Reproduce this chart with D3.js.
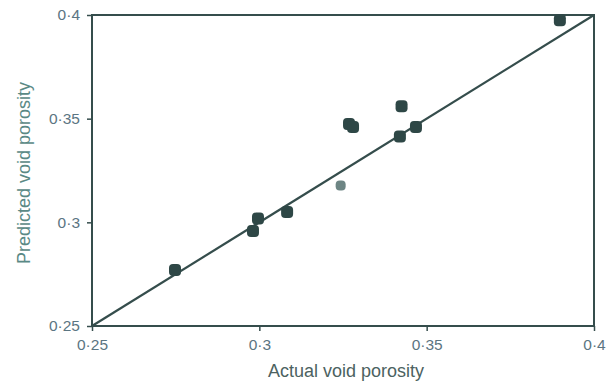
<!DOCTYPE html>
<html>
<head>
<meta charset="utf-8">
<script src="https://cdn.jsdelivr.net/npm/d3@7"></script>
<style>
  body { margin: 0; background: #fff; }
  text { font-family: "Liberation Sans", Arial, sans-serif; fill: #55706f; }
</style>
</head>
<body>
<div class="chart"></div>
<script>
// data
var actual    = [0.2748, 0.2981, 0.2996, 0.3083, 0.3243, 0.3268, 0.3280, 0.3425, 0.3420, 0.3468, 0.3898];
var predicted = [0.2770, 0.2958, 0.3018, 0.3050, 0.3178, 0.3474, 0.3460, 0.3560, 0.3414, 0.3460, 0.3975];
var faint     = [false, false, false, false, true, false, false, false, false, false, false];
var tickValues = [0.25, 0.3, 0.35, 0.4];
var tickLabels = ["0·25", "0·3", "0·35", "0·4"];

var WIDTH = 615, HEIGHT = 386;
var margin = { top: 15, right: 21, bottom: 60, left: 92 },
    width = WIDTH - margin.left - margin.right,
    height = HEIGHT - margin.top - margin.bottom;

var data = actual.map(function (a, i) {
    return { x: a, y: predicted[i], faint: faint[i] };
});

var xScale = d3.scaleLinear().domain([0.25, 0.4]).range([0, width]);
var yScale = d3.scaleLinear().domain([0.25, 0.4]).range([height, 0]);

var svg = d3.select('.chart').append("svg")
    .attr('width', WIDTH)
    .attr('height', HEIGHT);

var root = svg.append("g")
    .attr("transform", "translate(" + margin.left + "," + margin.top + ")");

var lineColor = "#354d4c";

// frame
root.append("rect")
    .attr("width", width)
    .attr("height", height)
    .attr("fill", "none")
    .attr("stroke", lineColor)
    .attr("stroke-width", 2);

// axes
var fmt = function (d) { return tickLabels[tickValues.indexOf(d)]; };

var xAxis = root.append("g")
    .attr("transform", "translate(0," + height + ")")
    .call(d3.axisBottom(xScale).tickValues(tickValues).tickFormat(fmt).tickSize(5).tickPadding(8));
var yAxis = root.append("g")
    .call(d3.axisLeft(yScale).tickValues(tickValues).tickFormat(fmt).tickSize(5).tickPadding(7));

[xAxis, yAxis].forEach(function (ax) {
    ax.select(".domain").remove();
    ax.selectAll("line").attr("stroke", lineColor).attr("stroke-width", 1.5);
    ax.selectAll("text").style("font-size", "15.5px").style("fill", "#5b7582")
        .style("font-family", "'Liberation Sans', Arial, sans-serif");
});

// 1:1 line
root.append("line")
    .attr("x1", xScale(0.25)).attr("y1", yScale(0.25))
    .attr("x2", xScale(0.4)).attr("y2", yScale(0.4))
    .attr("stroke", lineColor)
    .attr("stroke-width", 2.2);

// points
root.selectAll("rect.pt")
    .data(data)
    .enter()
    .append("rect")
    .attr("class", "pt")
    .attr("x", function (d) { return xScale(d.x) - (d.faint ? 5 : 6); })
    .attr("y", function (d) { return yScale(d.y) - (d.faint ? 5 : 6); })
    .attr("width", function (d) { return d.faint ? 10 : 12; })
    .attr("height", function (d) { return d.faint ? 10 : 12; })
    .attr("rx", 4)
    .attr("fill", function (d) { return d.faint ? "#6d8584" : "#2e4746"; });

// axis titles
root.append("text")
    .attr("x", width / 2 + 3)
    .attr("y", height + 51)
    .style("text-anchor", "middle")
    .style("font-size", "18px")
    .style("fill", "#4c6261")
    .text("Actual void porosity");

root.append("text")
    .attr("transform", "rotate(-90)")
    .attr("x", -(173 - margin.top))
    .attr("y", -62)
    .style("text-anchor", "middle")
    .style("font-size", "18px")
    .style("fill", "#5a8985")
    .text("Predicted void porosity");
</script>
</body>
</html>
